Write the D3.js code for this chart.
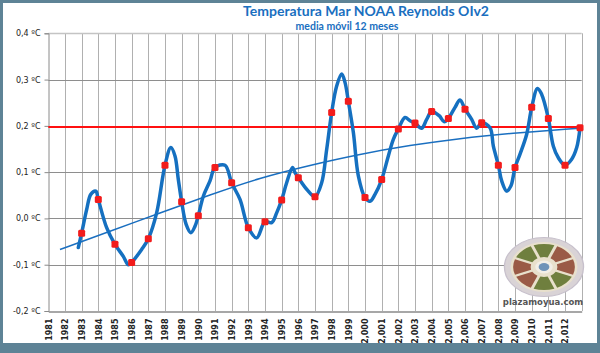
<!DOCTYPE html>
<html>
<head>
<meta charset="utf-8">
<script src="https://cdn.jsdelivr.net/npm/d3@7"></script>
<style>
  html, body { margin: 0; padding: 0; background: #5e8396; }
  svg { display: block; }
</style>
</head>
<body>
<div id="vis"></div>
<script>
const svgWidth = 600;
const svgHeight = 353;

// 12-month running mean (year, ºC)
const curveYears = [1982.8, 1983, 1983.3, 1983.55, 1983.85, 1984, 1984.5, 1985, 1985.5, 1985.8, 1986, 1986.6, 1987,
  1987.5, 1988, 1988.35, 1988.6, 1988.8, 1989, 1989.27, 1989.55, 1989.8, 1990, 1990.3, 1990.7, 1991, 1991.6, 1992,
  1992.5, 1993, 1993.5, 1994, 1994.4, 1994.7, 1995, 1995.3, 1995.65, 1995.8, 1996, 1996.5, 1997, 1997.4, 1997.7,
  1998, 1998.3, 1998.6, 1998.8, 1999, 1999.3, 1999.6, 2000, 2000.3, 2000.6, 2001, 2001.4, 2001.7, 2002, 2002.4,
  2002.7, 2003, 2003.4, 2003.7, 2004, 2004.45, 2004.75, 2005, 2005.4, 2005.7, 2006, 2006.4, 2006.7, 2007, 2007.5,
  2007.7, 2008, 2008.2, 2008.5, 2008.75, 2009, 2009.3, 2009.7, 2010, 2010.35, 2010.6, 2011, 2011.3, 2011.6, 2012,
  2012.4, 2012.7, 2012.9];
const curveValues = [-0.063, -0.032, 0.019, 0.052, 0.059, 0.041, -0.02, -0.056, -0.082, -0.1, -0.095, -0.067, -0.044,
  0.012, 0.115, 0.153, 0.135, 0.084, 0.036, -0.013, -0.031, -0.017, 0.006, 0.048, 0.081, 0.11, 0.115, 0.077,
  0.041, -0.02, -0.042, -0.007, -0.009, 0.012, 0.04, 0.077, 0.11, 0.099, 0.088, 0.063, 0.047, 0.077, 0.149,
  0.229, 0.286, 0.312, 0.294, 0.253, 0.186, 0.092, 0.045, 0.037, 0.052, 0.084, 0.135, 0.171, 0.193, 0.218,
  0.211, 0.206, 0.195, 0.214, 0.231, 0.222, 0.209, 0.216, 0.24, 0.256, 0.236, 0.214, 0.195, 0.207, 0.196,
  0.156, 0.115, 0.081, 0.059, 0.07, 0.11, 0.139, 0.182, 0.24, 0.281, 0.268, 0.216, 0.156, 0.131, 0.115,
  0.128, 0.153, 0.196];

// yearly markers
const dotYears = [1983, 1984, 1985, 1986, 1987, 1988, 1989, 1990, 1991, 1992, 1993, 1994, 1995, 1996, 1997, 1998,
  1999, 2000, 2001, 2002, 2003, 2004, 2005, 2006, 2007, 2008, 2009, 2010, 2011, 2012, 2012.9];
const dotValues = [-0.032, 0.041, -0.056, -0.095, -0.044, 0.115, 0.036, 0.006, 0.11, 0.077, -0.02, -0.007, 0.04,
  0.088, 0.047, 0.229, 0.253, 0.045, 0.084, 0.193, 0.206, 0.231, 0.216, 0.236, 0.207, 0.115, 0.11, 0.24, 0.216,
  0.115, 0.196];

// trend line
const trendYears = [1981.7, 1984.7, 1987.7, 1990.7, 1993.7, 1996.7, 1999.7, 2002.7, 2005.7, 2008.7, 2012.9];
const trendValues = [-0.067, -0.028, 0.012, 0.051, 0.088, 0.115, 0.139, 0.158, 0.173, 0.184, 0.195];

const refValue = 0.197;

const yTicks = [-0.2, -0.1, 0, 0.1, 0.2, 0.3, 0.4];
const yTickLabels = ['-0,2 ºC', '-0,1 ºC', '0,0 ºC', '0,1 ºC', '0,2 ºC', '0,3 ºC', '0,4 ºC'];
const xYears = d3.range(1981, 2013);
const xTickLabels = ['1981', '1982', '1983', '1984', '1985', '1986', '1987', '1988', '1989', '1990', '1991', '1992',
  '1993', '1994', '1995', '1996', '1997', '1998', '1999', '2,000', '2,001', '2,002', '2,003', '2,004', '2,005',
  '2,006', '2,007', '2,008', '2,009', '2,010', '2,011', '2,012'];

const svg = d3.select('#vis').append('svg').attr('width', svgWidth).attr('height', svgHeight);

// frame + white panel
svg.append('rect').attr('width', svgWidth).attr('height', svgHeight).attr('fill', '#5e8396');
svg.append('rect').attr('x', 3).attr('y', 3).attr('width', 594).attr('height', 340).attr('fill', '#fff');

const x = d3.scaleLinear().domain([1981, 2013]).range([48.3, 581.7]);
const y = d3.scaleLinear().domain([-0.2, 0.4]).range([311, 33.3]);

// grid
const grid = svg.append('g');
grid.selectAll('.vg').data(d3.range(1982, 2014)).join('line')
  .attr('x1', (d) => Math.round(x(d)) + 0.5).attr('x2', (d) => Math.round(x(d)) + 0.5)
  .attr('y1', y(0.4)).attr('y2', y(-0.2))
  .attr('stroke', '#b0b0b0').attr('stroke-width', 1);
grid.selectAll('.hg').data(yTicks.slice(1)).join('line')
  .attr('x1', x(1981)).attr('x2', x(2013))
  .attr('y1', (d) => Math.round(y(d)) + 0.5).attr('y2', (d) => Math.round(y(d)) + 0.5)
  .attr('stroke', (d) => (d === 0.4 ? '#c4c4c4' : '#8e8e8e')).attr('stroke-width', (d) => (d === 0.4 ? 1.5 : 1));

// axes
const yAxis = d3.axisLeft(y).tickValues(yTicks).tickFormat((d, i) => yTickLabels[i]).tickSize(4).tickPadding(4);
const gy = svg.append('g').attr('transform', `translate(${Math.round(x(1981)) + 0.5},0)`).call(yAxis);
gy.select('.domain').attr('stroke', '#8a8a8a');
gy.selectAll('.tick line').attr('stroke', '#8a8a8a');
gy.selectAll('text').attr('fill', '#222').style('font', '8px "DejaVu Sans"');

const xAxis = d3.axisBottom(x).tickValues(xYears).tickFormat((d, i) => xTickLabels[i]).tickSize(0).tickSizeOuter(0);
const gx = svg.append('g').attr('transform', `translate(0,${Math.round(y(-0.2)) + 0.5})`).call(xAxis);
gx.select('.domain').attr('stroke', '#8a8a8a').attr('stroke-width', 1.5);
gx.selectAll('text')
  .attr('fill', '#222')
  .style('font', 'bold 8px "DejaVu Sans"')
  .attr('text-anchor', 'end')
  .attr('transform', 'rotate(-90)')
  .attr('x', -7).attr('y', 0).attr('dy', '0.35em');

// reference line
svg.append('line')
  .attr('x1', x(1981)).attr('x2', x(2013))
  .attr('y1', 127).attr('y2', 127)
  .attr('y1', Math.round(y(refValue))).attr('y2', Math.round(y(refValue)))
  .attr('stroke', '#ff1010').attr('stroke-width', 2);

// logo
const logo = svg.append('g').attr('transform', 'translate(544,267) scale(1.34,1)');
logo.append('circle').attr('r', 29.5).attr('fill', '#d9d3d6').attr('stroke', '#c7c0cc').attr('stroke-width', 1);
logo.append('circle').attr('r', 25).attr('fill', '#e8e0cc');
const segColors = ['#6f7f3e', '#9a5a46', '#9a5a46', '#6f7f3e', '#6f7f3e', '#9a5a46', '#9a5a46', '#6f7f3e'];
const segArc = d3.arc().innerRadius(10).outerRadius(23).padAngle(0.09);
const segs = d3.pie().value(1).sort(null).startAngle(-Math.PI / 8).endAngle(2 * Math.PI - Math.PI / 8)(segColors);
logo.selectAll('path').data(segs).join('path').attr('d', segArc).attr('fill', (d) => d.data);
logo.append('circle').attr('r', 6.5).attr('fill', '#f2eee6');
logo.append('circle').attr('r', 4).attr('fill', '#6f93b8');
svg.append('text').attr('x', 543).attr('y', 305).attr('text-anchor', 'middle')
  .attr('fill', '#555').style('font', 'bold 8.5px "DejaVu Sans"').text('plazamoyua.com');

// trend
svg.append('path')
  .datum(trendYears.map((d, i) => [d, trendValues[i]]))
  .attr('fill', 'none').attr('stroke', '#1a6fc0').attr('stroke-width', 1.5)
  .attr('d', d3.line().x((d) => x(d[0])).y((d) => y(d[1])).curve(d3.curveBasis));

// running mean
svg.append('path')
  .datum(curveYears.map((d, i) => [d, curveValues[i]]))
  .attr('fill', 'none').attr('stroke', '#1570c0').attr('stroke-width', 3.5)
  .attr('stroke-linejoin', 'round').attr('stroke-linecap', 'round')
  .attr('d', d3.line().x((d) => x(d[0])).y((d) => y(d[1])).curve(d3.curveCatmullRom.alpha(0.5)));

// markers
svg.selectAll('.dot').data(dotYears).join('rect')
  .attr('x', (d) => x(d) - 3.5).attr('y', (d, i) => y(dotValues[i]) - 3.5)
  .attr('width', 7).attr('height', 7).attr('rx', 1.5)
  .attr('fill', '#f21c1c');

// titles
svg.append('text').attr('x', 366).attr('y', 16).attr('text-anchor', 'middle')
  .attr('fill', '#1a6fbf').style('font', 'bold 14px Lato')
  .text('Temperatura Mar NOAA Reynolds OIv2');
svg.append('text').attr('x', 347).attr('y', 29.5).attr('text-anchor', 'middle')
  .attr('fill', '#1a6fbf').style('font', 'bold 10.5px Lato')
  .text('media móvil 12 meses');
</script>
</body>
</html>
